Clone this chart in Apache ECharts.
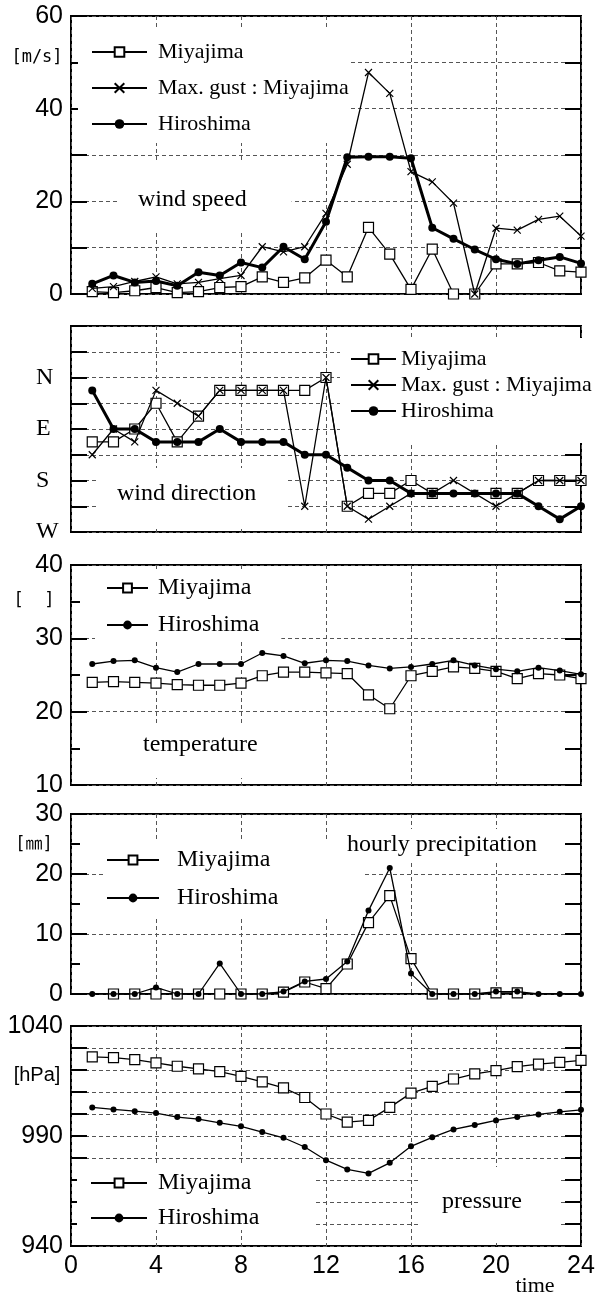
<!DOCTYPE html>
<html><head><meta charset="utf-8">
<script src="https://cdn.jsdelivr.net/npm/echarts@6.0.0/dist/echarts.min.js"></script>
<style>html,body{margin:0;padding:0;background:#fff}#c{width:604px;height:1297px}</style>
</head><body><div id="c"></div>
<script>
const hours = [1,2,3,4,5,6,7,8,9,10,11,12,13,14,15,16,17,18,19,20,21,22,23,24];

// wind speed [m/s]
const speedMiyajima  = [0.5,0.3,0.7,1.4,0.3,0.5,1.4,1.6,3.7,2.5,3.5,7.3,3.7,14.4,8.6,1.0,9.7,0,0,6.5,6.5,6.8,5.0,4.7];
const speedGust      = [1.2,1.6,2.7,3.7,2.2,2.5,3.3,4.0,10.2,9.1,10.2,17.4,28.0,47.8,43.3,26.4,24.2,19.6,0,14.2,13.8,16.1,16.8,12.5];
const speedHiroshima = [2.2,4.0,2.5,2.8,1.8,4.7,4.0,6.8,5.7,10.2,7.5,15.6,29.5,29.6,29.6,29.3,14.3,11.9,9.6,7.5,6.5,7.3,8.0,6.6];

// wind direction [degrees from N]
const dirMiyajima  = [112.5,112.5,90,45,112.5,67.5,22.5,22.5,22.5,22.5,22.5,0,225,202.5,202.5,180,202.5,null,null,202.5,202.5,180,180,180];
const dirGust      = [135,90,112.5,22.5,45,67.5,22.5,22.5,22.5,22.5,225,0,225,247.5,225,202.5,202.5,180,202.5,225,202.5,180,180,180];
const dirHiroshima = [22.5,90,90,112.5,112.5,112.5,90,112.5,112.5,112.5,135,135,157.5,180,180,202.5,202.5,202.5,202.5,202.5,202.5,225,247.5,225];
const dirTickLabels = {0:'N', 90:'E', 180:'S', 270:'W'};

// temperature
const tempMiyajima  = [24.0,24.1,24.0,23.9,23.7,23.6,23.6,23.9,24.9,25.4,25.4,25.3,25.2,22.3,20.4,24.9,25.5,26.1,25.9,25.5,24.5,25.2,25.0,24.5];
const tempHiroshima = [26.5,26.9,27.0,26.0,25.4,26.5,26.5,26.5,28.0,27.6,26.6,27.0,26.9,26.3,25.9,26.1,26.5,27.0,26.3,25.8,25.5,26.0,25.6,25.1];

// hourly precipitation [mm]
const precipMiyajima  = [null,0,0,0,0,0,0,0,0,0.3,2.0,0.9,5.0,11.9,16.4,5.9,0,0,0,0.2,0.2,null,null,null];
const precipHiroshima = [0,0,0,1.1,0,0,5.1,0,0,0.4,2.1,2.5,5.4,13.9,21.0,3.4,0,0,0,0.4,0.4,0,0,0];

// pressure [hPa]
const presMiyajima  = [1026.0,1025.6,1024.7,1023.2,1021.7,1020.5,1019.3,1017.1,1014.6,1011.9,1007.5,1000.0,996.3,997.1,1003.0,1009.5,1012.6,1015.9,1018.2,1019.7,1021.5,1022.7,1023.5,1024.4];
const presHiroshima = [1003.0,1002.1,1001.3,1000.4,998.6,997.7,996.0,994.4,991.8,989.2,985.0,979.0,974.8,973.0,977.8,985.3,989.4,993.0,995.0,997.1,998.6,999.8,1001.0,1001.9];

const pairs = arr => hours.map((h, i) => [h, arr[i]]);

const SERIF = '"Liberation Serif", "Times New Roman", serif';
const SANS = '"Liberation Sans", Arial, sans-serif';
const MONO = '"DejaVu Sans Mono", "Noto Sans CJK JP", monospace';
const CROSS = 'path://M0,0L10,10M0,10L10,0';
const dash = {type: [4, 3], color: '#555', width: 1};

const panels = [
  {top: 16, height: 278, min: 0, max: 60, interval: 10, rInterval: 10},
  {top: 326, height: 206, min: -90, max: 270, interval: 45, rInterval: 45, inverse: true},
  {top: 565, height: 220, min: 10, max: 40, interval: 10, rInterval: 5, minor: true},
  {top: 814, height: 180, min: 0, max: 30, interval: 10, rInterval: 5, minor: true},
  {top: 1026, height: 220, min: 940, max: 1040, interval: 10, rInterval: 10}
];

const grid = panels.map(p => ({
  left: 71, width: 510, top: p.top, height: p.height,
  show: true, borderColor: '#000', borderWidth: 2, backgroundColor: 'transparent',
  containLabel: false, outerBoundsMode: 'none'
}));

const xAxis = panels.map((p, i) => ({
  type: 'value', gridIndex: i, min: 0, max: 24, interval: 4,
  axisLine: {show: false}, axisTick: {show: false},
  axisLabel: {show: i === 4, color: '#000', fontFamily: SANS, fontSize: 25, margin: 8},
  splitLine: {show: true, lineStyle: dash}
}));

const labelFormatters = [
  v => (v % 20 === 0 ? String(v) : ''),
  v => (dirTickLabels[v] !== undefined ? dirTickLabels[v] : ''),
  v => String(v),
  v => String(v),
  v => ((v - 940) % 50 === 0 ? String(v) : '')
];

const yAxis = [];
panels.forEach((p, i) => {
  const left = {
    type: 'value', gridIndex: i, position: 'left', min: p.min, max: p.max, interval: p.interval,
    inverse: !!p.inverse,
    axisLine: {show: false},
    axisTick: {show: true, inside: true, length: 16, lineStyle: {color: '#000', width: 2}},
    axisLabel: {show: true, color: '#000', fontFamily: SANS, fontSize: 25, margin: 8, formatter: labelFormatters[i], showMinLabel: true, showMaxLabel: true},
    splitLine: {show: true, lineStyle: dash}
  };
  if (i === 1) {
    left.axisLabel = {show: true, color: '#000', fontFamily: SERIF, fontSize: 24, margin: 35, align: 'left', formatter: labelFormatters[i], showMinLabel: true, showMaxLabel: true};
  }
  if (p.minor) {
    left.minorTick = {show: true, splitNumber: 2, length: 9, lineStyle: {color: '#000', width: 2}};
  }
  yAxis.push(left);
  yAxis.push({
    type: 'value', gridIndex: i, position: 'right', min: p.min, max: p.max, interval: p.rInterval,
    inverse: !!p.inverse,
    axisLine: {show: false},
    axisTick: {show: true, inside: true, length: 16, lineStyle: {color: '#000', width: 2}},
    axisLabel: {show: false}, splitLine: {show: false}
  });
});

function miyajima(name, panel, arr) {
  return {name: name + '@' + panel, type: 'line', xAxisIndex: panel, yAxisIndex: panel * 2,
    data: pairs(arr), symbol: 'rect', symbolSize: 10, showAllSymbol: true,
    itemStyle: {color: '#fff', borderColor: '#000', borderWidth: 1.2},
    lineStyle: {color: '#000', width: 1.3}, connectNulls: false, z: 2};
}
function gust(name, panel, arr) {
  return {name: name + '@' + panel, type: 'line', xAxisIndex: panel, yAxisIndex: panel * 2,
    data: pairs(arr), symbol: CROSS, symbolSize: 7, showAllSymbol: true,
    itemStyle: {color: '#000', borderColor: '#000', borderWidth: 1.2},
    lineStyle: {color: '#000', width: 1.3}, z: 3};
}
function hiroshima(name, panel, arr, bold) {
  return {name: name + '@' + panel, type: 'line', xAxisIndex: panel, yAxisIndex: panel * 2,
    data: pairs(arr), symbol: 'circle', symbolSize: bold ? 8 : 6, showAllSymbol: true,
    itemStyle: {color: '#000', borderColor: '#000', borderWidth: 0},
    lineStyle: {color: '#000', width: bold ? 3 : 1.3}, z: 4};
}

const series = [
  miyajima('Miyajima', 0, speedMiyajima),
  gust('Max. gust : Miyajima', 0, speedGust),
  hiroshima('Hiroshima', 0, speedHiroshima, true),
  miyajima('Miyajima', 1, dirMiyajima),
  gust('Max. gust : Miyajima', 1, dirGust),
  hiroshima('Hiroshima', 1, dirHiroshima, true),
  miyajima('Miyajima', 2, tempMiyajima),
  hiroshima('Hiroshima', 2, tempHiroshima, false),
  miyajima('Miyajima', 3, precipMiyajima),
  hiroshima('Hiroshima', 3, precipHiroshima, false),
  miyajima('Miyajima', 4, presMiyajima),
  hiroshima('Hiroshima', 4, presHiroshima, false)
];

function legend(panel, names, cfg) {
  return {
    data: names.map(n => n + '@' + panel),
    formatter: n => n.split('@')[0],
    orient: 'vertical', left: cfg.left, top: cfg.top, padding: cfg.padding,
    itemGap: cfg.gap, itemWidth: cfg.itemWidth, itemHeight: cfg.itemHeight || 12,
    backgroundColor: '#fff', selectedMode: false,
    textStyle: {fontFamily: SERIF, fontSize: cfg.fontSize, lineHeight: cfg.fontSize, color: '#000', padding: [0, 0, 0, cfg.textPad]}
  };
}

const legends = [
  legend(0, ['Miyajima', 'Max. gust : Miyajima', 'Hiroshima'], {left: 78, top: 30, padding: [11, 1, 8, 13], gap: 14, itemWidth: 55, fontSize: 22, textPad: 6}),
  legend(1, ['Miyajima', 'Max. gust : Miyajima', 'Hiroshima'], {left: 340, top: 338, padding: [10, 4, 21, 10], gap: 4, itemWidth: 45, fontSize: 22, textPad: 0}),
  legend(2, ['Miyajima', 'Hiroshima'], {left: 95, top: 572, padding: [4, 22, 3, 11], gap: 13, itemWidth: 41, fontSize: 24, textPad: 5, itemHeight: 11}),
  legend(3, ['Miyajima', 'Hiroshima'], {left: 104, top: 842, padding: [6, 86, 7, 2], gap: 14, itemWidth: 52, fontSize: 24, textPad: 13, itemHeight: 11}),
  legend(4, ['Miyajima', 'Hiroshima'], {left: 77, top: 1163, padding: [8, 54, 0, 13], gap: 11, itemWidth: 56, fontSize: 24, textPad: 6, itemHeight: 11})
];

function boxText(text, x, y, padding) {
  return {type: 'text', x: x, y: y, z: 5, silent: true,
    style: {text: text, font: '24px ' + SERIF, fill: '#000', lineHeight: 24,
      backgroundColor: '#fff', padding: padding, align: 'left', verticalAlign: 'top'}};
}
function plainText(text, x, y, font) {
  return {type: 'text', x: x, y: y, z: 5, silent: true,
    style: {text: text, font: font, fill: '#000', align: 'center', verticalAlign: 'middle'}};
}

const graphic = [
  boxText('wind speed', 120, 162, [26, 45, 18, 18]),
  boxText('wind direction', 98, 468, [14, 30, 22, 19]),
  boxText('temperature', 135, 723, [10, 8, 21, 8]),
  boxText('hourly precipitation', 341, 829, [4, 6, 4, 6]),
  boxText('pressure', 420, 1167, [23, 39, 26, 22]),
  plainText('[m/s]', 37, 58, '17px ' + MONO),
  plainText('[  ]', 34, 601, '17px ' + MONO),
  plainText('[㎜]', 34, 845, '17px ' + MONO),
  plainText('[hPa]', 37, 1075, '20px ' + SANS),
  plainText('time', 535, 1286, '22px ' + SERIF)
];

const chart = echarts.init(document.getElementById('c'), null, {renderer: 'canvas'});
chart.setOption({
  animation: false,
  backgroundColor: '#fff',
  grid: grid, xAxis: xAxis, yAxis: yAxis, series: series,
  legend: legends, graphic: graphic,
  tooltip: {show: false}
});
</script></body></html>
